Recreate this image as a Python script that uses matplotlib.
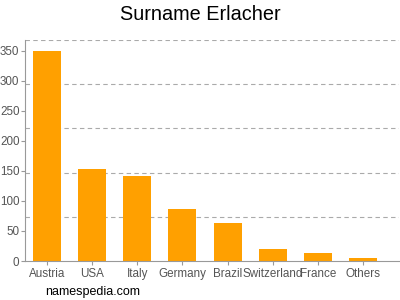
import matplotlib.pyplot as plt
import numpy as np

countries = ["Austria", "USA", "Italy", "Germany", "Brazil", "Switzerland", "France", "Others"]
counts = [350, 153, 142, 87, 63, 20, 13, 5]
yticks = [0, 50, 100, 150, 200, 250, 300, 350]

plt.rcParams["font.family"] = ["Liberation Sans", "DejaVu Sans"]

fig = plt.figure(figsize=(4, 3), dpi=100)
ax = fig.add_axes([0.0625, 0.13, 0.935, 0.737])

x = np.arange(len(countries))
ax.bar(x, counts, width=0.62, color="#ffa000", zorder=2)

ymax = 368
ax.set_ylim(0, ymax)
ax.set_xlim(-0.49, 7.8)
ax.set_yticks(yticks)
ax.set_xticks(x)
ax.set_xticklabels(countries)

# grid lines are not on the tick values in the original
for g in np.linspace(0, ymax, 6)[1:]:
    ax.axhline(g, color="#aaaaaa", linestyle=(0, (4, 3)), linewidth=0.8, zorder=1)

for s in ["top", "right"]:
    ax.spines[s].set_visible(False)
ax.spines["left"].set_color("#999999")
ax.spines["bottom"].set_color("#999999")
ax.tick_params(colors="#555555", labelsize=8.4, length=3)
ax.tick_params(axis="x", color="#999999", pad=2)
ax.tick_params(axis="y", color="#999999", pad=1)

fig.text(0.5, 0.95, "Surname Erlacher", ha="center", va="center", fontsize=14.3)
fig.text(0.112, 0.027, "namespedia.com", ha="left", va="center", fontsize=9)

fig.savefig("out.png", dpi=100)
